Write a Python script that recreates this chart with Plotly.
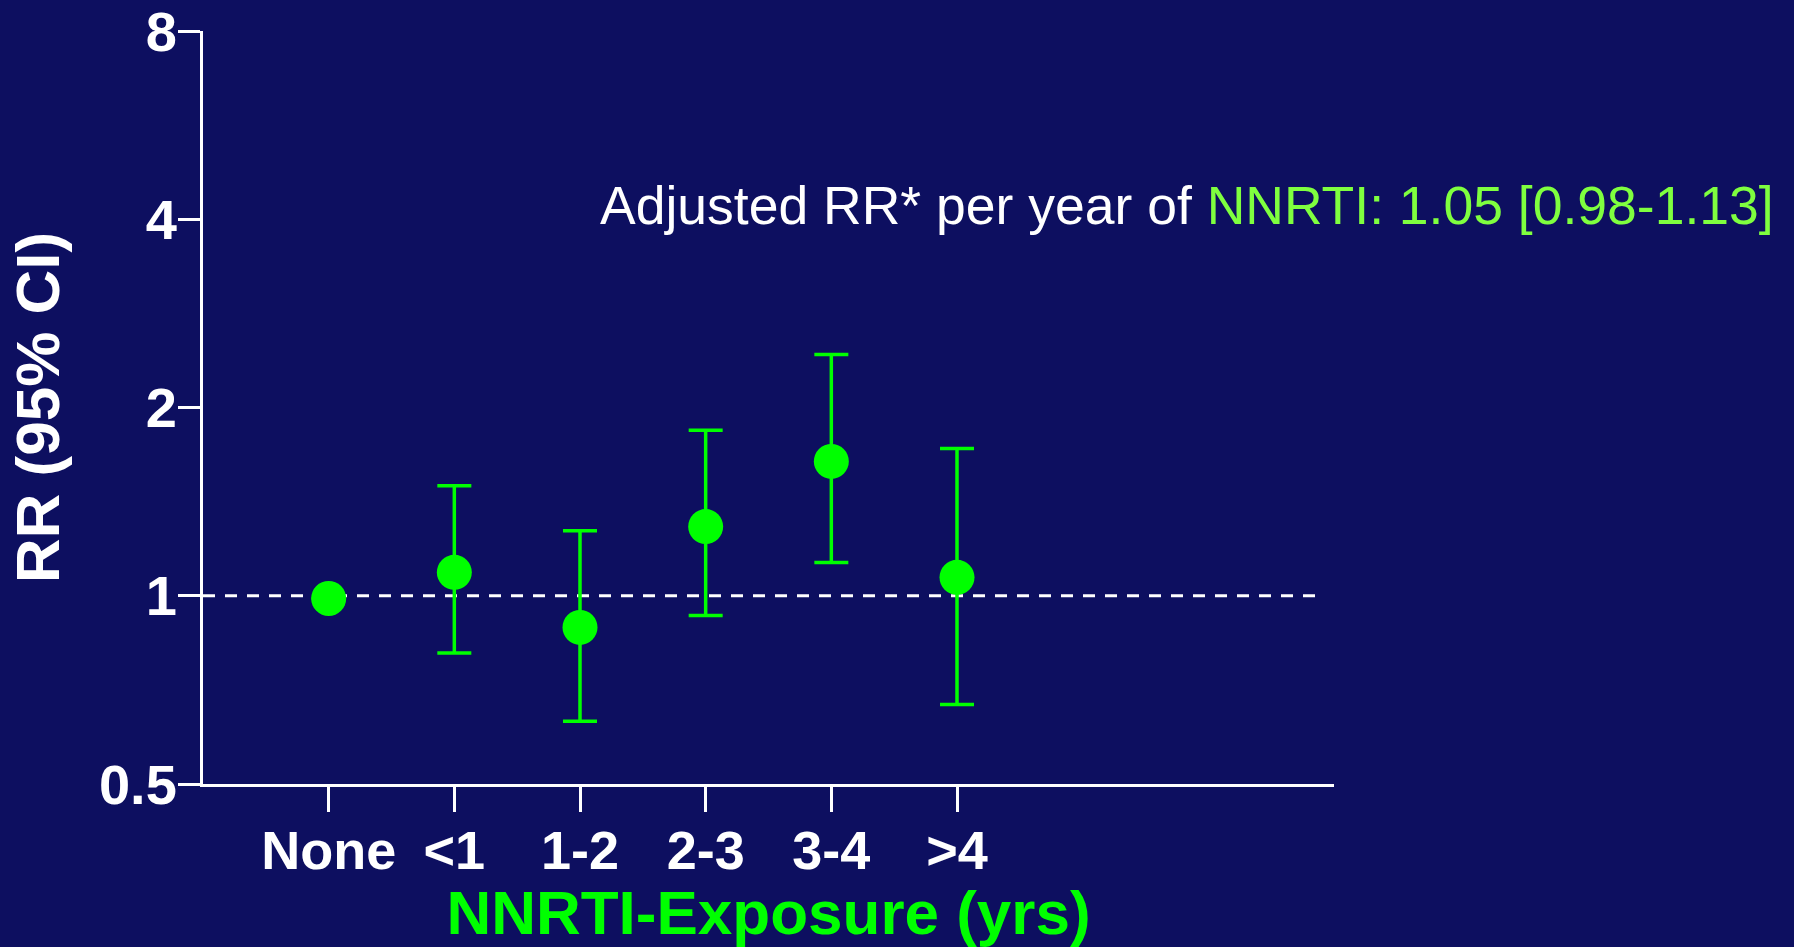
import plotly.graph_objects as go

categories = ["None", "<1", "1-2", "2-3", "3-4", ">4"]
rr = [0.99, 1.09, 0.89, 1.29, 1.64, 1.07]
ci_low = [0.99, 0.81, 0.63, 0.93, 1.13, 0.67]
ci_high = [0.99, 1.50, 1.27, 1.84, 2.43, 1.72]
y_tickvals = [0.5, 1, 2, 4, 8]
y_ticktext = ["0.5", "1", "2", "4", "8"]

BG = "#0D0F60"
GREEN = "#00FF00"
LIGHT_GREEN = "#7FFF3F"
WHITE = "#FFFFFF"
FONT = "Liberation Sans, Arial, sans-serif"

fig = go.Figure()

# reference line at RR = 1
fig.add_shape(type="line", xref="x", yref="y", x0=-1, x1=7.9, y0=1, y1=1,
              line=dict(color=WHITE, width=3, dash="12px,10px"), layer="below")

fig.add_trace(go.Scatter(
    x=categories, y=rr, mode="markers",
    marker=dict(size=35, color=GREEN, line=dict(width=0)),
    error_y=dict(type="data", symmetric=False,
                 array=[h - r for h, r in zip(ci_high, rr)],
                 arrayminus=[r - l for r, l in zip(rr, ci_low)],
                 color=GREEN, thickness=3.5, width=17),
    showlegend=False,
    cliponaxis=False,
))

fig.add_annotation(
    xref="paper", yref="paper", x=0.349, y=0.768, xanchor="left", yanchor="middle",
    text="Adjusted RR* per year of <span style='color:%s'>NNRTI: 1.05 [0.98-1.13]</span>" % LIGHT_GREEN,
    showarrow=False, font=dict(family=FONT, size=53.5, color=WHITE),
)

fig.update_layout(
    width=1794, height=947,
    margin=dict(l=203, r=460, t=31, b=163),
    paper_bgcolor=BG, plot_bgcolor=BG,
    font=dict(family=FONT, color=WHITE),
    xaxis=dict(
        type="category", categoryorder="array", categoryarray=categories,
        range=[-1, 8], automargin=False,
        showline=True, linecolor=WHITE, linewidth=3,
        showgrid=False, zeroline=False,
        ticks="outside", ticklen=25, tickwidth=3, tickcolor=WHITE,
        ticklabelstandoff=-8, ticklabeloverflow="allow",
        tickfont=dict(family=FONT, size=54, color=WHITE, weight="bold"),
        title=dict(text="<b>NNRTI-Exposure (yrs)</b>", standoff=18,
                   font=dict(family=FONT, size=62, color=GREEN)),
    ),
    yaxis=dict(
        type="log", range=[-0.30103, 0.90309], automargin=False,
        tickvals=y_tickvals, ticktext=y_ticktext,
        showline=True, linecolor=WHITE, linewidth=3,
        showgrid=False, zeroline=False,
        ticks="outside", ticklen=22, tickwidth=3, tickcolor=WHITE,
        ticklabelstandoff=-10, ticklabeloverflow="allow",
        tickfont=dict(family=FONT, size=56, color=WHITE, weight="bold"),
        title=dict(text="<b>RR (95% CI)</b>", standoff=20,
                   font=dict(family=FONT, size=62, color=WHITE)),
    ),
)

fig.write_html("out.html")
